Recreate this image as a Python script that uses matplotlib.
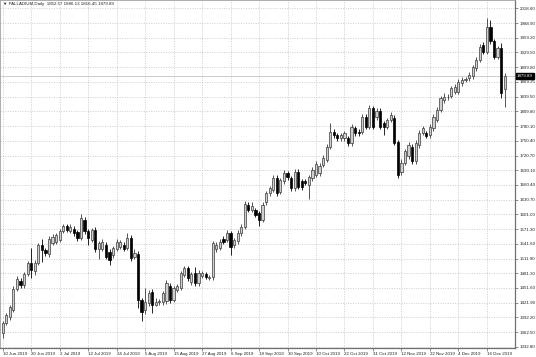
"""
PALLADIUM daily candlesticks, Jun - Dec 2019 (MetaTrader style)
"""

import pandas as pd
import matplotlib
matplotlib.use("Agg")
import matplotlib.pyplot as plt
import matplotlib.transforms as mtransforms

# ── Data ──────────────────────────────────────
opens = [
    1360, 1380, 1393, 1408, 1450, 1466, 1458, 1480, 1503, 1485,
    1502, 1539, 1529, 1520, 1542, 1545, 1549, 1566, 1576, 1566,
    1571, 1565, 1553, 1589, 1566, 1548, 1568, 1531, 1530, 1538,
    1524, 1518, 1531, 1535, 1538, 1532, 1552, 1515, 1521, 1428,
    1407, 1421, 1444, 1417, 1424, 1423, 1425, 1456, 1428, 1448,
    1452, 1478, 1491, 1463, 1482, 1462, 1476, 1480, 1472, 1474,
    1530, 1533, 1551, 1548, 1562, 1538, 1546, 1562, 1575, 1620,
    1609, 1609, 1603, 1589, 1626, 1643, 1650, 1673, 1646, 1667,
    1683, 1673, 1653, 1686, 1668, 1668, 1659, 1673, 1680, 1683,
    1700, 1710, 1737, 1767, 1760, 1754, 1754, 1754, 1744, 1774,
    1767, 1767, 1797, 1777, 1814, 1796, 1809, 1784, 1777, 1790,
    1795, 1746, 1686, 1704, 1717, 1737, 1707, 1740, 1764, 1764,
    1760, 1774, 1791, 1811, 1830, 1836, 1839, 1848, 1848, 1865,
    1872, 1875, 1879, 1895, 1912, 1942, 1928, 1979, 1949, 1918,
    1935, 1852.57,
]
highs = [
    1385, 1402, 1418, 1455, 1475, 1472, 1484, 1507, 1532, 1508,
    1543, 1551, 1533, 1556, 1560, 1563, 1570, 1581, 1581, 1581,
    1576, 1569, 1601, 1595, 1570, 1572, 1574, 1546, 1551, 1544,
    1530, 1536, 1550, 1549, 1544, 1562, 1558, 1530, 1526, 1432,
    1451, 1448, 1450, 1432, 1430, 1446, 1468, 1462, 1456, 1460,
    1486, 1495, 1496, 1484, 1493, 1487, 1486, 1484, 1478, 1547,
    1545, 1550, 1556, 1568, 1566, 1553, 1568, 1581, 1627, 1625,
    1626, 1614, 1607, 1625, 1648, 1658, 1679, 1679, 1674, 1690,
    1688, 1678, 1692, 1691, 1672, 1672, 1680, 1695, 1707, 1703,
    1719, 1742, 1784, 1772, 1765, 1765, 1769, 1759, 1782, 1779,
    1772, 1802, 1802, 1821, 1819, 1814, 1815, 1789, 1795, 1806,
    1800, 1750, 1712, 1733, 1746, 1742, 1750, 1770, 1779, 1768,
    1782, 1802, 1816, 1839, 1845, 1844, 1860, 1863, 1873, 1877,
    1878, 1887, 1902, 1917, 1944, 1948, 1996, 1992, 1954, 1940,
    1945, 1886.10,
]
lows = [
    1351, 1376, 1388, 1403, 1445, 1452, 1452, 1476, 1471, 1478,
    1497, 1505, 1516, 1515, 1538, 1541, 1545, 1562, 1565, 1562,
    1557, 1547, 1549, 1560, 1538, 1544, 1525, 1511, 1526, 1510,
    1498, 1513, 1526, 1530, 1526, 1528, 1506, 1510, 1411, 1385,
    1400, 1415, 1401, 1415, 1418, 1418, 1420, 1422, 1423, 1444,
    1448, 1474, 1466, 1458, 1455, 1456, 1471, 1469, 1467, 1468,
    1525, 1528, 1540, 1544, 1518, 1533, 1541, 1557, 1571, 1604,
    1604, 1594, 1576, 1584, 1620, 1638, 1645, 1637, 1641, 1662,
    1670, 1648, 1648, 1651, 1650, 1660, 1631, 1668, 1675, 1678,
    1695, 1705, 1732, 1755, 1749, 1749, 1749, 1739, 1739, 1759,
    1759, 1762, 1772, 1772, 1772, 1791, 1772, 1760, 1772, 1786,
    1740, 1674, 1680, 1699, 1712, 1702, 1702, 1735, 1760, 1754,
    1755, 1769, 1786, 1806, 1825, 1830, 1834, 1843, 1843, 1860,
    1867, 1870, 1874, 1890, 1907, 1923, 1923, 1944, 1913, 1913,
    1835, 1816.45,
]
closes = [
    1380, 1397, 1413, 1449, 1469, 1458, 1480, 1503, 1487, 1503,
    1539, 1529, 1522, 1550, 1555, 1559, 1566, 1576, 1569, 1574,
    1562, 1552, 1592, 1566, 1552, 1568, 1531, 1542, 1545, 1515,
    1508, 1532, 1545, 1544, 1531, 1552, 1512, 1522, 1428, 1404,
    1424, 1442, 1417, 1424, 1425, 1441, 1462, 1428, 1451, 1455,
    1481, 1491, 1471, 1480, 1462, 1482, 1481, 1474, 1473, 1542,
    1538, 1544, 1544, 1562, 1535, 1548, 1563, 1575, 1622, 1609,
    1618, 1599, 1589, 1620, 1643, 1653, 1673, 1643, 1669, 1684,
    1675, 1653, 1686, 1656, 1656, 1664, 1675, 1690, 1702, 1698,
    1714, 1737, 1767, 1760, 1754, 1760, 1764, 1744, 1777, 1764,
    1764, 1797, 1777, 1814, 1777, 1809, 1777, 1777, 1790, 1800,
    1745, 1680, 1704, 1728, 1740, 1707, 1744, 1764, 1774, 1758,
    1777, 1797, 1811, 1834, 1837, 1837, 1855, 1858, 1868, 1871,
    1873, 1881, 1897, 1912, 1938, 1928, 1979, 1949, 1918, 1935,
    1845, 1879.89,
]

# broker feed has an extra Sunday bar on 27 Oct
dates = pd.bdate_range("2019-06-10", "2019-12-23").append(pd.DatetimeIndex(["2019-10-27"])).sort_values()

ytick_vals = [1332.8 + 29.7 * k for k in range(24)]
ytick_labels = ["1332.80", "1362.50", "1392.20", "1421.90", "1451.60", "1481.30",
                "1511.90", "1541.60", "1571.30", "1601.00", "1630.70", "1660.40",
                "1690.10", "1720.70", "1750.40", "1780.10", "1809.80", "1839.50",
                "1869.25", "1899.80", "1929.50", "1959.20", "1988.90", "2018.60"]

last_price = 1879.89
header = "\u25bc PALLADIUM,Daily  1852.57 1886.13 1816.45 1879.89"

# ── Plot ──────────────────────────────────────
plt.rcParams["font.family"] = ["Liberation Sans", "DejaVu Sans"]
fig = plt.figure(figsize=(5.36, 3.57), dpi=100)
ax = fig.add_axes([0.0, 9 / 357, 515 / 536, 348 / 357])

n = len(closes)
xs = list(range(n))
bull_col, bear_col = "#cfcfcf", "#000000"
for i in xs:
    o, h, l, c = opens[i], highs[i], lows[i], closes[i]
    up = c >= o
    edge = "#3a3a3a" if up else "#000000"
    ax.vlines(i, l, h, color=edge, linewidth=0.6, zorder=2)
    bottom = min(o, c)
    height = max(abs(c - o), 1.2)
    ax.bar(i, height, bottom=bottom, width=0.62,
           color=bull_col if up else bear_col, edgecolor=edge, linewidth=0.5, zorder=3)

# current price line + box
ax.axhline(last_price, color="#c4c4c4", linewidth=0.6, zorder=1)
trans = mtransforms.blended_transform_factory(ax.transAxes, ax.transData)
ax.text(1.004, last_price, "1879.89", transform=trans, ha="left", va="center",
        fontsize=3.2, color="white", zorder=5, clip_on=False,
        bbox=dict(boxstyle="square,pad=0.25", facecolor="black", edgecolor="black"))

ax.set_xlim(-0.76, 143.9)
ax.set_ylim(1330.5, 2032.7)

# x ticks every 8 bars
xt = list(range(0, n, 8))
ax.set_xticks(xt)
ax.set_xticklabels([f"{dates[i].day} {dates[i].strftime('%b %Y')}" for i in xt],
                   ha="left", fontsize=3.2, color="#202020")
ax.set_yticks(ytick_vals)
ax.set_yticklabels(ytick_labels, fontsize=3.2, color="#202020")
ax.yaxis.tick_right()
ax.tick_params(axis="both", length=2, width=0.5, color="#606060", pad=1.5)
ax.tick_params(axis="x", pad=1.0)

ax.grid(True, linestyle=(0, (1.5, 2)), color="#bdbdbd", linewidth=0.5, zorder=0)
ax.set_axisbelow(True)

for side in ("right", "bottom"):
    ax.spines[side].set_color("#707070")
    ax.spines[side].set_linewidth(0.9)
for side in ("left", "top"):
    ax.spines[side].set_color("#a0a0a0")
    ax.spines[side].set_linewidth(0.6)

ax.text(0.006, 0.993, header, transform=ax.transAxes, ha="left", va="top",
        fontsize=3.2, color="#202020")

fig.savefig("out.png", dpi=100)
print("[OK] Saved out.png")
